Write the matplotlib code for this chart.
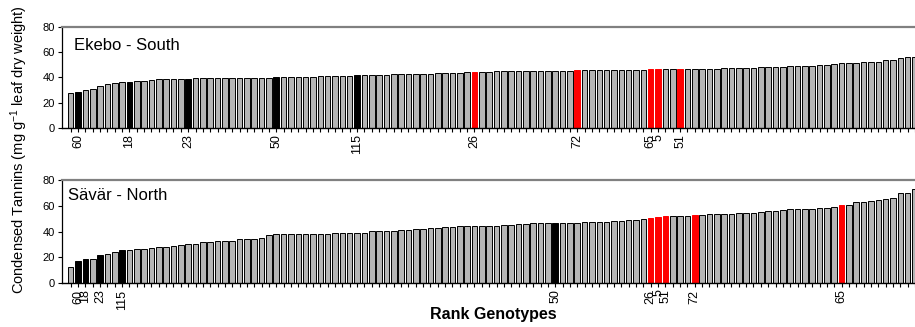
import matplotlib
matplotlib.use("Agg")
import matplotlib.pyplot as plt

plt.rcParams['font.family'] = ['Liberation Sans', 'DejaVu Sans']
plt.rcParams['mathtext.fontset'] = 'custom'
plt.rcParams['mathtext.rm'] = 'Liberation Sans'
plt.rcParams['mathtext.it'] = 'Liberation Sans:italic'
plt.rcParams['mathtext.bf'] = 'Liberation Sans:bold'

# ---------------- data ----------------
ekebo_values = [
    28.0, 28.5, 30.4, 30.9, 33.5, 35.1, 35.4, 36.2, 36.7, 37.2,
    37.2, 37.8, 38.5, 38.8, 38.8, 39.1, 39.1, 39.3, 39.3, 39.3,
    39.3, 39.4, 39.4, 39.5, 39.6, 39.7, 39.8, 39.9, 40.1, 40.1,
    40.2, 40.3, 40.6, 40.7, 40.8, 40.9, 41.1, 41.2, 41.4, 41.7,
    41.8, 42.0, 42.2, 42.3, 42.4, 42.5, 42.6, 42.8, 43.0, 43.1,
    43.2, 43.3, 43.5, 43.7, 44.0, 44.4, 44.5, 44.6, 44.8, 44.9,
    45.0, 45.0, 45.1, 45.2, 45.2, 45.3, 45.3, 45.4, 45.5, 45.7,
    45.7, 45.7, 45.7, 45.7, 45.7, 45.8, 46.0, 46.0, 46.2, 46.5,
    46.5, 46.5, 46.5, 46.5, 46.5, 46.6, 46.7, 46.8, 47.0, 47.2,
    47.3, 47.3, 47.4, 47.8, 48.0, 48.1, 48.3, 48.6, 48.7, 48.8,
    48.9, 49.4, 49.5, 49.6, 51.0, 51.2, 51.3, 51.5, 52.0, 52.5,
    52.6, 53.5, 53.6, 55.5, 56.5, 56.6,
]
ekebo_label_rank = [1, 8, 16, 28, 39, 55, 69, 79, 80, 83]
ekebo_label_text = ['60', '18', '23', '50', '115', '26', '72', '65', '5', '51']

savar_values = [
    12.4, 17.5, 18.8, 18.8, 21.7, 23.0, 24.0, 25.5, 25.8, 26.3,
    26.8, 27.1, 27.9, 28.1, 28.9, 29.7, 30.2, 30.3, 32.2, 32.3,
    32.5, 32.6, 33.0, 34.0, 34.1, 34.6, 35.4, 37.2, 38.2, 38.4,
    38.5, 38.5, 38.5, 38.5, 38.5, 38.5, 38.6, 38.6, 38.7, 38.7,
    38.9, 40.6, 40.8, 40.8, 40.9, 41.0, 41.1, 41.7, 42.0, 42.7,
    43.0, 43.6, 43.9, 44.2, 44.4, 44.5, 44.6, 44.6, 44.7, 45.3,
    45.5, 45.7, 45.9, 46.4, 46.5, 46.6, 46.7, 46.9, 47.0, 47.0,
    47.2, 47.4, 47.5, 47.7, 48.0, 48.0, 49.0, 49.3, 49.8, 50.8,
    51.4, 52.4, 52.4, 52.4, 52.4, 52.6, 52.9, 53.4, 53.4, 53.9,
    53.9, 54.2, 54.2, 54.5, 55.0, 56.0, 56.3, 56.8, 57.5, 57.8,
    57.8, 57.8, 58.1, 58.3, 59.1, 60.4, 60.9, 62.7, 62.7, 63.5,
    64.8, 65.3, 66.3, 69.7, 69.7, 72.8,
]
savar_label_rank = [1, 2, 4, 7, 66, 79, 80, 81, 85, 105]
savar_label_text = ['60', '18', '23', '115', '50', '26', '5', '51', '72', '65']

black_genotypes = ['60', '18', '23', '50', '115']
red_genotypes = ['26', '72', '65', '5', '51']

panel_titles = ['Ekebo - South', 'Sävär - North']
y_ticks = [0, 20, 40, 60, 80]
y_label = r'Condensed Tannins (mg g$^{-1}$ leaf dry weight)'
x_label = 'Rank Genotypes'

GRAY = '#b4b4b4'


def draw_panel(ax, values, ranks, texts, title, title_x, title_y):
    n = len(values)
    labels = [''] * n
    for r, t in zip(ranks, texts):
        labels[r] = t
    fills, edges = [], []
    for lab in labels:
        if lab in black_genotypes:
            fills.append('black'); edges.append('black')
        elif lab in red_genotypes:
            fills.append('#ff0000'); edges.append('#ff0000')
        else:
            fills.append(GRAY); edges.append('black')
    x = list(range(n))
    ax.bar(x, values, width=0.76, color=fills, edgecolor=edges, linewidth=0.7)
    ax.set_xlim(-1.18, 115.0)
    ax.set_ylim(0, 80)
    ax.set_yticks(y_ticks)
    ax.set_xticks(x)
    ax.set_xticklabels(labels, rotation=90, fontsize=9)
    ax.tick_params(axis='x', direction='out', length=3, width=0.8, pad=1.5)
    ax.tick_params(axis='y', direction='out', length=3, width=0.8, pad=2, labelsize=8)
    ax.spines['right'].set_visible(False)
    ax.spines['top'].set_color('#808080')
    ax.spines['top'].set_linewidth(1.6)
    ax.spines['left'].set_linewidth(0.9)
    ax.spines['bottom'].set_linewidth(1.0)
    ax.text(title_x, title_y, title, transform=ax.transAxes, fontsize=12,
            ha='left', va='baseline')


fig = plt.figure(figsize=(9.15, 3.27), dpi=100)
ax1 = fig.add_axes([0.0678, 0.6086, 0.9322, 0.3089])
ax2 = fig.add_axes([0.0678, 0.1336, 0.9322, 0.3159])

draw_panel(ax1, ekebo_values, ekebo_label_rank, ekebo_label_text,
           panel_titles[0], 0.014, 0.772)
draw_panel(ax2, savar_values, savar_label_rank, savar_label_text,
           panel_titles[1], 0.007, 0.806)

fig.text(0.0213, 0.544, y_label, rotation=90, ha='center', va='center', fontsize=10.5)
fig.text(0.539, 0.037, x_label, ha='center', va='center', fontsize=11.5,
         fontweight='bold')

fig.savefig('out.png', dpi=100)
